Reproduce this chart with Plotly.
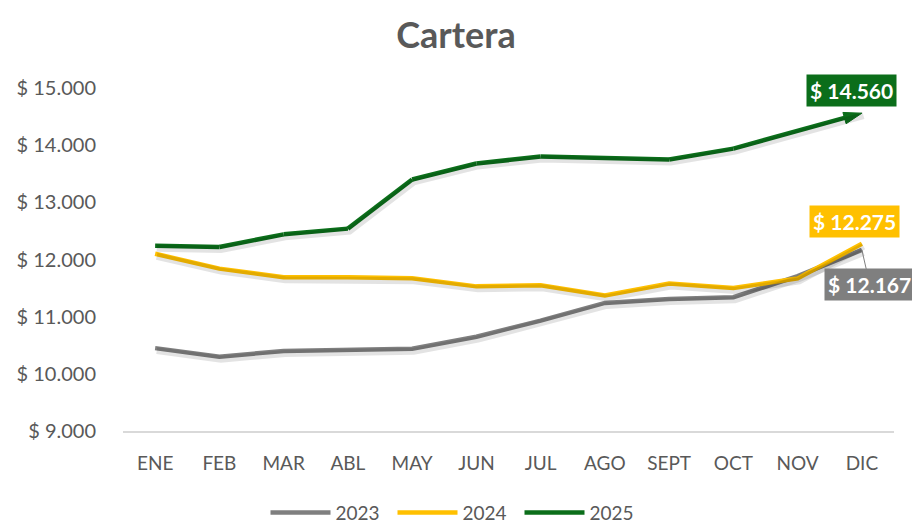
import plotly.graph_objects as go

months = ["ENE", "FEB", "MAR", "ABL", "MAY", "JUN", "JUL", "AGO", "SEPT", "OCT", "NOV", "DIC"]
v2023 = [10450, 10300, 10400, 10420, 10440, 10650, 10930, 11240, 11310, 11340, 11710, 12167]
v2024 = [12100, 11840, 11690, 11690, 11670, 11530, 11550, 11370, 11580, 11500, 11670, 12275]
v2025 = [12240, 12220, 12440, 12540, 13400, 13680, 13800, 13780, 13750, 13940, 14240, 14560]
y_tickvals = [9000, 10000, 11000, 12000, 13000, 14000, 15000]
y_ticktext = ["$ 9.000", "$ 10.000", "$ 11.000", "$ 12.000", "$ 13.000", "$ 14.000", "$ 15.000"]
end_labels = {"2025": "$ 14.560", "2024": "$ 12.275", "2023": "$ 12.167"}

GRAY = "#7F7F7F"
YELLOW = "#FFC000"
GREEN = "#0B6E1A"
TXT = "#595959"
FONT = "Lato, Open Sans, sans-serif"

fig = go.Figure()

# soft drop shadows drawn on a slightly shifted overlay axis pair
for vals in (v2023, v2024, v2025):
    fig.add_trace(go.Scatter(x=months, y=vals, mode="lines", showlegend=False, hoverinfo="skip",
                             line=dict(color="rgba(0,0,0,0.11)", width=7),
                             xaxis="x2", yaxis="y2"))

fig.add_trace(go.Scatter(x=months, y=v2023, name="2023", mode="lines",
                         line=dict(color=GRAY, width=4.5)))
fig.add_trace(go.Scatter(x=months, y=v2024, name="2024", mode="lines",
                         line=dict(color=YELLOW, width=4.5)))
sizes = [0] * (len(months) - 1) + [19]
fig.add_trace(go.Scatter(x=months, y=v2025, name="2025", mode="lines+markers",
                         line=dict(color=GREEN, width=4.5),
                         marker=dict(symbol="arrow", angleref="previous", size=sizes,
                                     color=GREEN, opacity=1, line=dict(width=1, color=GREEN))))

def label(yval, text, bg, ax, ay, arrow=False):
    fig.add_annotation(x=months[-1], y=yval, text="<b>" + text + "</b>",
                       showarrow=True, arrowhead=0, arrowwidth=1,
                       arrowcolor=(GRAY if arrow else "rgba(0,0,0,0)"),
                       ax=ax, ay=ay, bgcolor=bg, borderpad=3,
                       font=dict(family=FONT, size=21, color="white"))

label(v2025[-1], end_labels["2025"], GREEN, -10, -23)
label(v2024[-1], end_labels["2024"], YELLOW, -7, -22)
label(v2023[-1], end_labels["2023"], GRAY, 8, 35, arrow=True)

plot_h = 527 - 88 - 96
shift = 2.5 / plot_h * 6000

fig.update_layout(
    width=912, height=527,
    paper_bgcolor="white", plot_bgcolor="white",
    margin=dict(l=123, r=18, t=88, b=96, autoexpand=False),
    title=dict(text="<b>Cartera</b>", x=0.5, xanchor="center", y=0.933, yanchor="middle",
               font=dict(family=FONT, size=36, color=TXT)),
    font=dict(family=FONT, color=TXT),
    showlegend=True,
    legend=dict(orientation="h", xref="container", x=0.5, xanchor="center",
                yref="container", y=0.027, yanchor="middle",
                font=dict(family=FONT, size=19, color=TXT), itemwidth=60,
                entrywidth=52, entrywidthmode="pixels",
                traceorder="normal"),
    xaxis2=dict(overlaying="x", range=[-0.5 - 0.025, 11.5 - 0.025], visible=False),
    yaxis2=dict(overlaying="y", range=[9000 + shift, 15000 + shift], visible=False),
    xaxis=dict(showgrid=False, showline=True, linecolor="#D9D9D9", linewidth=1.5,
               ticks="", ticklabelstandoff=14, automargin=False,
               tickfont=dict(family=FONT, size=19, color=TXT), range=[-0.5, 11.5]),
    yaxis=dict(showgrid=False, showline=False, zeroline=False, range=[9000, 15000],
               tickvals=y_tickvals, ticktext=y_ticktext, ticks="", ticklabelstandoff=26,
               automargin=False, tickfont=dict(family=FONT, size=20, color=TXT)),
)

fig.write_html("out.html", config={"displayModeBar": False},
               post_script="document.body.style.margin='0';document.body.style.overflow='hidden';")
